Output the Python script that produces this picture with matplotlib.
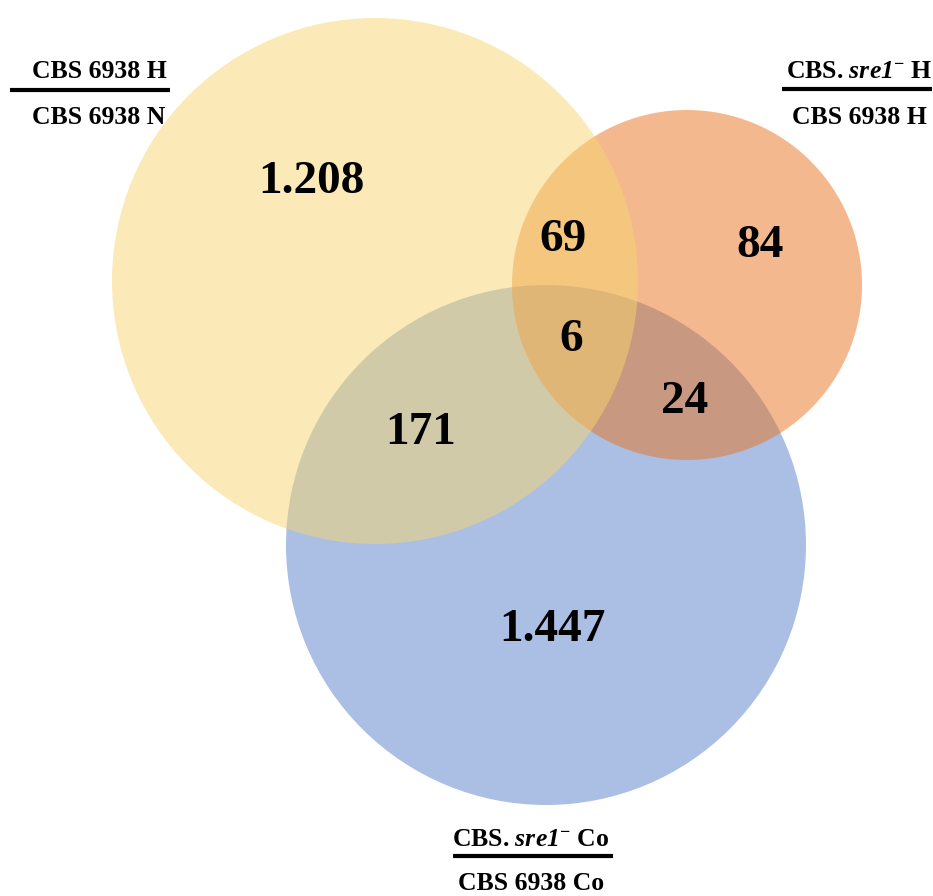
import matplotlib
matplotlib.use("Agg")
import matplotlib.pyplot as plt
from matplotlib.patches import Circle

plt.rcParams['font.family'] = ['Liberation Serif', 'DejaVu Serif']
plt.rcParams['mathtext.fontset'] = 'custom'
plt.rcParams['mathtext.rm'] = 'Liberation Serif:bold'
plt.rcParams['mathtext.it'] = 'Liberation Serif:italic:bold'
plt.rcParams['mathtext.sf'] = 'Liberation Serif:italic:bold'
plt.rcParams['mathtext.bf'] = 'Liberation Serif:bold'

# Region counts
region_labels = ["A only", "A&B", "B only", "A&B&C", "B&C", "A&C", "C only"]
region_values = ["1.208", "69", "84", "6", "24", "171", "1.447"]

set_top = [r"CBS 6938 H", r"CBS. $\mathsf{sre1}^{\mathbf{-}}$ H", r"CBS. $\mathsf{sre1}^{\mathbf{-}}$ Co"]
set_bottom = ["CBS 6938 N", "CBS 6938 H", "CBS 6938 Co"]

fig = plt.figure(figsize=(9.33, 8.96), dpi=100)
ax = fig.add_axes([0, 0, 1, 1])
ax.set_xlim(0, 933)
ax.set_ylim(896, 0)
ax.set_aspect('equal')
ax.axis('off')

# circles: (cx, cy, r, color) drawn blue, orange, yellow
circles = [
    (546, 545, 260, (87/255, 129/255, 201/255)),   # C
    (687, 285, 175, (233/255, 115/255, 31/255)),   # B
    (375, 281, 263, (248/255, 213/255, 112/255)),  # A
]
for cx, cy, r, col in circles:
    ax.add_patch(Circle((cx, cy), r, facecolor=col, alpha=0.5, edgecolor='none'))

pos = [(311, 182), (563, 240), (760, 246), (571, 340), (685, 402), (421, 433), (552, 630)]
for (x, y), v in zip(pos, region_values):
    ax.text(x, y, v, ha='center', va='center', fontsize=34, fontweight='bold')

label_pos = [(99, 72, 117, 10, 170, 90), (859, 72, 117, 782, 932, 89), (531, 840, 884, 453, 613, 856)]
for (x, yt, yb, x0, x1, yl), t, b in zip(label_pos, set_top, set_bottom):
    ax.text(x, yt, t, ha='center', va='center', fontsize=18.5, fontweight='bold')
    ax.text(x, yb, b, ha='center', va='center', fontsize=18.5, fontweight='bold')
    ax.plot([x0, x1], [yl, yl], color='black', lw=3, solid_capstyle='butt')

fig.savefig("out.png", dpi=100)
